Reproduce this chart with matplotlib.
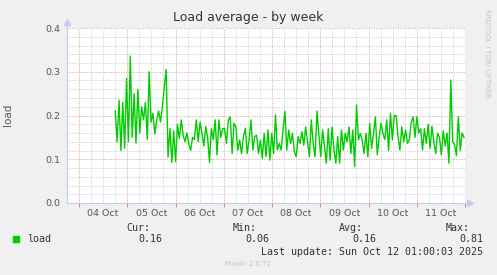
import numpy as np
import matplotlib
matplotlib.use('Agg')
import matplotlib.pyplot as plt
import matplotlib.dates as mdates
from datetime import datetime, timedelta

# load values, roughly hourly, Oct 4 18:00 -> Oct 12 00:00
seg1 = [0.21, 0.14, 0.235, 0.12, 0.23, 0.125, 0.285, 0.14, 0.336, 0.15, 0.25, 0.137,
        0.26, 0.16, 0.22, 0.19, 0.23, 0.146, 0.30, 0.185, 0.205, 0.158, 0.19, 0.21,
        0.185, 0.22, 0.265, 0.305]
seg2 = [0.105, 0.17, 0.093, 0.165, 0.095, 0.18, 0.147, 0.19, 0.155, 0.14, 0.16, 0.135,
        0.12, 0.15, 0.145, 0.19, 0.14, 0.185, 0.16, 0.13, 0.175, 0.15, 0.093, 0.17,
        0.145, 0.19, 0.11, 0.19, 0.15, 0.17]
seg3 = [0.17, 0.136, 0.19, 0.197, 0.113, 0.182, 0.174, 0.121, 0.144, 0.113, 0.152, 0.171,
        0.113, 0.144, 0.19, 0.121, 0.152, 0.155, 0.113, 0.144, 0.102, 0.159, 0.106, 0.167,
        0.098, 0.159, 0.113, 0.201, 0.121]
seg4 = [0.136, 0.121, 0.167, 0.21, 0.121, 0.167, 0.136, 0.159, 0.117, 0.106, 0.152, 0.136,
        0.163, 0.132, 0.174, 0.14, 0.106, 0.19, 0.136, 0.106, 0.21, 0.159, 0.106, 0.167,
        0.129, 0.091, 0.17, 0.098, 0.174, 0.121, 0.091]
seg5 = [0.152, 0.091, 0.167, 0.121, 0.159, 0.14, 0.174, 0.113, 0.167, 0.083, 0.224, 0.144,
        0.159, 0.144, 0.113, 0.159, 0.106, 0.182, 0.125, 0.159, 0.197, 0.11, 0.15, 0.182,
        0.159, 0.145, 0.19, 0.12, 0.205, 0.144, 0.2]
seg6 = [0.20, 0.152, 0.121, 0.174, 0.14, 0.167, 0.136, 0.144, 0.184, 0.197, 0.15, 0.197,
        0.16, 0.17, 0.121, 0.17, 0.136, 0.18, 0.125, 0.175, 0.14, 0.113, 0.16, 0.15,
        0.11, 0.165, 0.13, 0.16, 0.091, 0.281, 0.14, 0.133, 0.108, 0.197, 0.12, 0.16, 0.15]
load = np.array(seg1 + seg2 + seg3 + seg4 + seg5 + seg6)

data_start = datetime(2025, 10, 4, 18, 0)
data_end = datetime(2025, 10, 11, 23, 30)
view_start = datetime(2025, 10, 3, 18, 0)
view_end = datetime(2025, 10, 12, 0, 0)

day_labels = ['04 Oct', '05 Oct', '06 Oct', '07 Oct', '08 Oct', '09 Oct', '10 Oct', '11 Oct']
stats = [('Cur:', '0.16'), ('Min:', '0.06'), ('Avg:', '0.16'), ('Max:', '0.81')]

GREEN = '#00cc00'
BG = '#f0f0f0'
MAJ = '#e09a9a'
MIN = '#c8c8c8'
AXC = '#c8c8f0'
TXT = '#555555'

fig = plt.figure(figsize=(4.97, 2.75), dpi=100, facecolor=BG)
W, H = 497, 275
x0, x1, ytop, ybot = 67, 465, 28, 203
ax = fig.add_axes([x0 / W, 1 - ybot / H, (x1 - x0) / W, (ybot - ytop) / H])
ax.set_facecolor('white')

t = np.linspace(mdates.date2num(data_start), mdates.date2num(data_end), len(load))

vs, ve = mdates.date2num(view_start), mdates.date2num(view_end)
ax.set_xlim(vs, ve)
ax.set_ylim(0, 0.4)

dots = (0, (1, 1.5))
# grid: 6h minor grey, day boundaries red
k = np.arange(np.ceil(vs * 4), np.floor(ve * 4) + 1) / 4.0
for v in k:
    if abs(v - round(v)) < 1e-9:
        ax.axvline(v, color=MAJ, lw=0.7, ls=dots, zorder=1)
    else:
        ax.axvline(v, color=MIN, lw=0.7, ls=dots, zorder=1)
for i in range(1, 21):
    yv = i * 0.02
    if i % 5 == 0:
        ax.axhline(yv, color=MAJ, lw=0.7, ls=dots, zorder=1)
    else:
        ax.axhline(yv, color=MIN, lw=0.7, ls=dots, zorder=1)

ax.plot(t, load, color=GREEN, lw=1.0, zorder=3)

for s in ['top', 'right']:
    ax.spines[s].set_visible(False)
for s in ['left', 'bottom']:
    ax.spines[s].set_color(AXC)
    ax.spines[s].set_linewidth(0.8)
# axis arrows
ax.plot([0, 0], [1, 1.03], color=AXC, lw=0.8, transform=ax.transAxes, clip_on=False)
ax.plot([0], [1.035], marker='^', ms=4, color=AXC, transform=ax.transAxes, clip_on=False)
ax.plot([1, 1.012], [0, 0], color=AXC, lw=0.8, transform=ax.transAxes, clip_on=False)
ax.plot([1.013], [0], marker='>', ms=4, color=AXC, transform=ax.transAxes, clip_on=False)

midnights = [mdates.date2num(datetime(2025, 10, 4) + timedelta(days=d)) for d in range(9)]
noons = [m + 0.5 for m in midnights[:8]]
ax.set_xticks(midnights)
ax.set_xticklabels([])
ax.tick_params(axis='x', which='major', color='#e08080', length=3, width=0.7)
ax.set_xticks(noons, day_labels, minor=True)
ax.tick_params(axis='x', which='minor', length=0, pad=4, labelsize=6.8, labelcolor=TXT)
ax.set_yticks([0, 0.1, 0.2, 0.3, 0.4], ['0.0', '0.1', '0.2', '0.3', '0.4'])
ax.tick_params(axis='y', length=0, pad=5, labelsize=6.8, labelcolor=TXT)

fig.text(248 / W, 1 - 18 / H, 'Load average - by week', ha='center', va='center',
         fontsize=9, color='#333333')
fig.text(8 / W, 1 - 115 / H, 'load', rotation=90, ha='center', va='center',
         fontsize=7.5, color=TXT)
fig.text(487 / W, 1 - 53 / H, 'RRDTOOL / TOBI OETIKER', rotation=270, ha='center',
         va='center', fontsize=5, color='#c4c4c4')

mono = 'DejaVu Sans Mono'
fs = 7.2
fig.patches.append(plt.Rectangle((13 / W, 1 - 242 / H), 6 / W, 6 / H, color=GREEN,
                                 transform=fig.transFigure, figure=fig))
fig.text(27 / W, 1 - 239 / H, 'load', family=mono, fontsize=fs, color='#333333',
         ha='left', va='center')
hx = [150, 257, 363, 470]
vx = [162, 269, 376, 483]
for (h, v), a, b in zip(stats, hx, vx):
    fig.text(a / W, 1 - 228 / H, h, family=mono, fontsize=fs, color='#333333',
             ha='right', va='center')
    fig.text(b / W, 1 - 239 / H, v, family=mono, fontsize=fs, color='#333333',
             ha='right', va='center')
fig.text(483 / W, 1 - 252 / H, 'Last update: Sun Oct 12 01:00:03 2025', family=mono,
         fontsize=fs, color='#333333', ha='right', va='center')
fig.text(248 / W, 1 - 264 / H, 'Munin 2.0.72', fontsize=5, color='#c4c4c4',
         ha='center', va='center')

fig.savefig('out.png', dpi=100, facecolor=BG)
